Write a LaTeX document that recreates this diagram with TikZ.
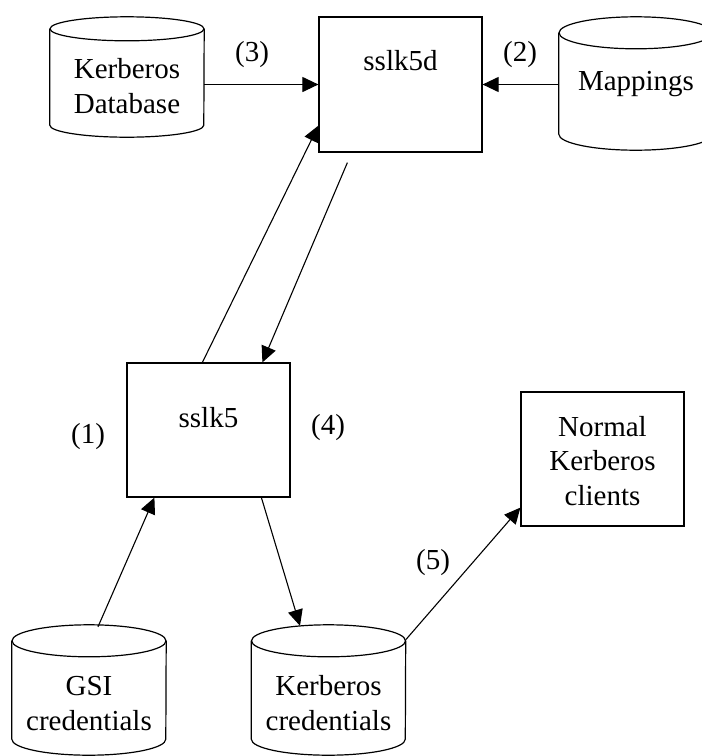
\documentclass[tikz,border=0pt]{standalone}
\usepackage{fontspec}
\setmainfont{Liberation Serif}
\usetikzlibrary{arrows.meta}

% outline of a storage drum around an (invisible) node:
% #1 node name, #2 half width, #3 radius of the top cap, #4 radius of the bottom rim
\newcommand\drumoutline[4]{%
  \draw[outline] ([yshift=-#3]#1.north west) -- ([yshift=#4]#1.south west)
    arc[start angle=180, end angle=360, x radius=#2, y radius=#4]
    -- ([yshift=-#3]#1.north east);
  \draw[outline] ([yshift=-#3]#1.north) ellipse[x radius=#2, y radius=#3];
}

\begin{document}
\begin{tikzpicture}[x=1pt, y=-1pt,
    every node/.style={font=\fontsize{29pt}{34.5pt}\selectfont, inner sep=0pt},
    outline/.style={draw=black, line width=1.2pt},
    procbox/.style={outline, rectangle, minimum width=163pt, minimum height=134pt},
    drumbody/.style={rectangle, draw=none, minimum width=154pt},
    txt/.style={align=center, anchor=base},
    flow/.style={line width=1.1pt, -{Triangle[length=16pt, width=15pt]}},
    tag/.style={anchor=center}]

  \useasboundingbox (0,0) rectangle (702,756);
  \clip (0,0) rectangle (702,756);

  % processes (text anchored at the baseline of its last line)
  \node[procbox, minimum height=135pt] (sslk5d) at (400.5,84.5) {};
  \node[txt] (sslk5dtext) at (400.5,70) {sslk5d};
  \node[procbox] (sslk5) at (208.5,430) {};
  \node[txt] (sslk5text) at (208.5,427) {sslk5};
  \node[procbox] (normal) at (602.5,459) {};
  \node[txt] (normaltext) at (602.5,505) {Normal\\Kerberos\\clients};

  % storage drums
  \node[drumbody, minimum height=120pt] (kdb) at (127,77) {};
  \drumoutline{kdb}{77pt}{12pt}{12pt}
  \node[txt] (kdbtext) at (127,113) {Kerberos\\Database};

  \node[drumbody, minimum height=133pt] (map) at (636,83.5) {};
  \drumoutline{map}{77pt}{16pt}{16pt}
  \node[txt] (maptext) at (636,90) {Mappings};

  \node[drumbody, minimum height=130pt] (gsi) at (89,690) {};
  \drumoutline{gsi}{77pt}{16pt}{16pt}
  \node[txt] (gsitext) at (89,730) {GSI\\credentials};

  \node[drumbody, minimum height=130pt] (kcred) at (328.5,690) {};
  \drumoutline{kcred}{77pt}{16pt}{16pt}
  \node[txt] (kcredtext) at (328.5,730) {Kerberos\\credentials};

  % connectors
  \draw[flow] (kdb.east |- sslk5d.west) -- (sslk5d.west);
  \draw[flow] (map.west |- sslk5d.east) -- (sslk5d.east);
  \draw[flow] ([xshift=76pt]sslk5.north west) -- ([yshift=27pt]sslk5d.south west);
  \draw[flow] ([xshift=29pt, yshift=-10pt]sslk5d.south west) -- ([xshift=136pt]sslk5.north west);
  \draw[flow] ([xshift=9pt, yshift=-2pt]gsi.north) -- ([xshift=28pt]sslk5.south west);
  \draw[flow] ([xshift=135pt]sslk5.south west) -- ([xshift=-28.5pt, yshift=-1pt]kcred.north);
  \draw[flow] ([yshift=-15pt]kcred.north east) -- ([yshift=19pt]normal.south west);

  % step numbers
  \node[tag] (n1) at (88,437) {(1)};
  \node[tag] (n2) at (520,55) {(2)};
  \node[tag] (n3) at (252,55) {(3)};
  \node[tag] (n4) at (328,428) {(4)};
  \node[tag] (n5) at (433,563) {(5)};
\end{tikzpicture}
\end{document}
